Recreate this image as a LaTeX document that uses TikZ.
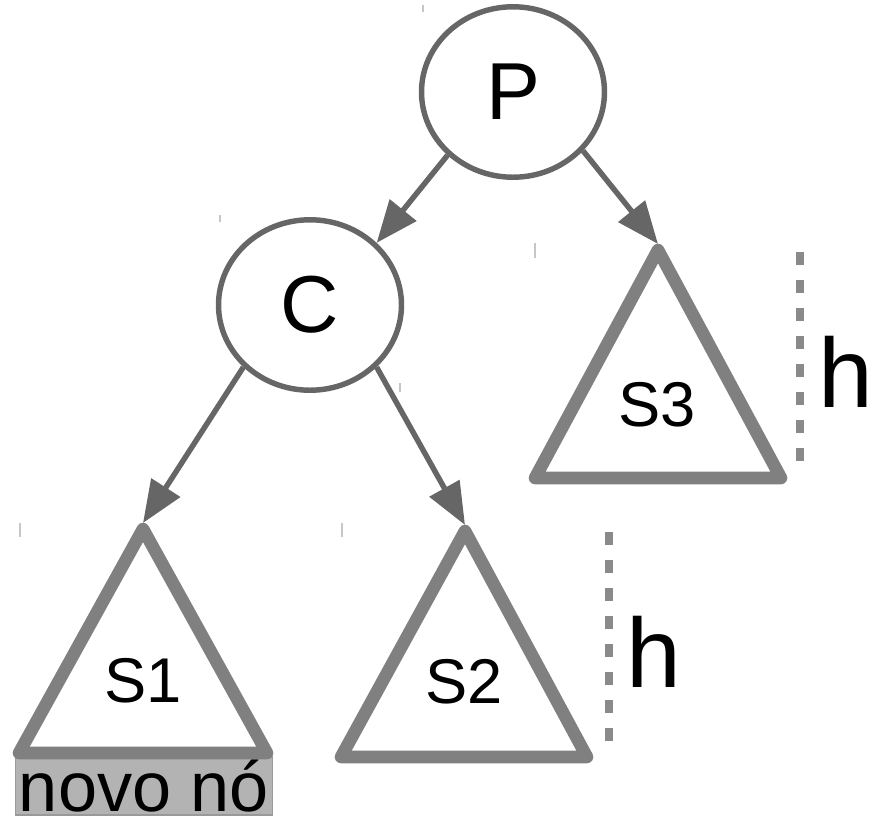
\documentclass[tikz,border=0pt]{standalone}
\usepackage{fontspec}
\setmainfont{Liberation Sans}
\usetikzlibrary{arrows.meta,shapes.geometric}
\definecolor{nodegray}{HTML}{666666}
\definecolor{treegray}{HTML}{808080}
\definecolor{dashgray}{HTML}{8A8A8A}
\definecolor{newgray}{HTML}{B3B3B3}
\definecolor{newedge}{HTML}{999999}

\begin{document}
\begin{tikzpicture}[x=0.02cm,y=-0.02cm,
    key/.style={ellipse,draw=nodegray,line width=3.1pt,fill=white,inner sep=0pt,
      minimum width=3.66cm,minimum height=3.41cm,font=\fontsize{46}{50}\selectfont},
    edge/.style={draw=nodegray,line width=3.1pt,-{Triangle[length=24pt,width=19pt]}},
    subtree/.style={draw=treegray,line width=7.2pt,line join=round},
    sublabel/.style={font=\fontsize{36}{40}\selectfont},
    height/.style={draw=dashgray,line width=4pt,dash pattern=on 7.4pt off 8.5pt},
    hlabel/.style={font=\fontsize{56}{60}\selectfont}]
  \useasboundingbox (0,0) rectangle (890,819);
  % stray cursor marks
  \foreach \x/\y/\l in {423/5/7,220/215/7,535/243/15,400/383/9,20/523/14,342/523/14}
    \draw[gray!45,line width=0.6pt] (\x,\y) -- ++(0,\l);
  % keys
  \node[key] (P) at (513,92) {P};
  \node[key] (C) at (310,305) {C};
  % new node below S1
  \node[draw=newedge,fill=newgray,line width=0.8pt,inner sep=0pt,
    minimum width=146pt,minimum height=33pt,font=\fontsize{40}{44}\selectfont] (new) at (144,786) {novo nó};
  % subtrees
  \draw[subtree] (143,529) -- (267,753) -- (19,753) -- cycle;
  \draw[subtree] (465,531) -- (587,757) -- (341,757) -- cycle;
  \draw[subtree] (658,250) -- (781,478) -- (535,478) -- cycle;
  \coordinate (s1tip) at (143,523);
  \coordinate (s2tip) at (465,525);
  \coordinate (s3tip) at (658,244);
  \node[sublabel] (S1) at (143,681) {S1};
  \node[sublabel] (S2) at (464,682) {S2};
  \node[sublabel] (S3) at (657,405) {S3};
  % edges
  \draw[edge] (P.224) -- (C.43);
  \draw[edge] (P.320) -- (s3tip);
  \draw[edge] (C.223) -- (s1tip);
  \draw[edge] (C.317) -- (s2tip);
  % heights
  \draw[height] (609,532) -- (609,753);
  \draw[height] (800,252) -- (800,474);
  \node[hlabel] (h1) at (654,652) {h};
  \node[hlabel] (h2) at (846,372) {h};
\end{tikzpicture}
\end{document}
